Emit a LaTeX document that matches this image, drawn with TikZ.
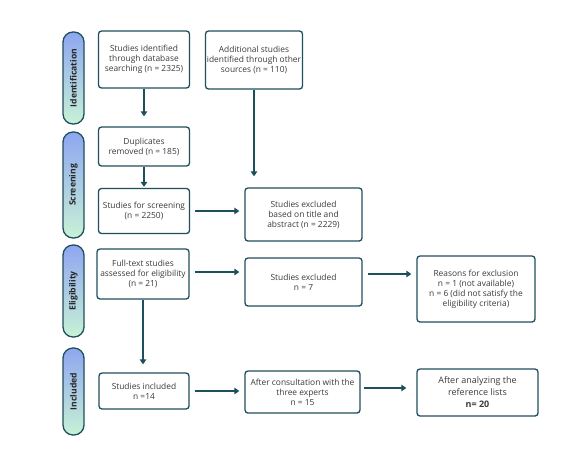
\documentclass[tikz,border=0pt]{standalone}
\usepackage{fontspec}
\setmainfont{Open Sans}
\usetikzlibrary{arrows.meta}
\definecolor{frameC}{HTML}{1E4F5C}
\definecolor{txtC}{HTML}{3A3A3A}
\definecolor{pillTop}{HTML}{8EA6F0}
\definecolor{pillBot}{HTML}{C8F2D6}
\begin{document}
\begin{tikzpicture}[x=1pt,y=-1pt,
  box/.style={draw=frameC, line width=1.3pt, rounded corners=3pt, align=center,
    font=\fontsize{8.4}{10}\selectfont, text=txtC, inner sep=1pt},
  pill/.style={draw=frameC, line width=1.3pt, rounded corners=10pt,
    minimum width=21pt, top color=pillTop, bottom color=pillBot, inner sep=0pt},
  pilltext/.style={rotate=90, font=\bfseries\fontsize{8.6}{10}\selectfont, text=black!85, inner sep=0pt},
  arr/.style={draw=frameC, line width=1.8pt, -{Triangle[width=6.5pt,length=5pt]}}
]
\useasboundingbox (0,0) rectangle (571,459);
% phase pills
\node[pill, minimum height=92pt] (pid) at (73.5,78) {};
\node[pilltext] (tid) at (pid.center) {Identification};
\node[pill, minimum height=106pt] (pscr) at (73.5,185) {};
\node[pilltext] (tscr) at (pscr.center) {Screening};
\node[pill, minimum height=92pt] (pel) at (73.5,291) {};
\node[pilltext] (tel) at (pel.center) {Eligibility};
\node[pill, minimum height=87pt] (pinc) at (73.5,391.5) {};
\node[pilltext] (tinc) at (pinc.center) {Included};
% boxes
\node[box, minimum width=91pt, minimum height=57pt] (b1) at (144,59.5)
  {Studies identified\\through database\\searching (n = 2325)};
\node[box, minimum width=97pt, minimum height=58pt] (b2) at (254,60)
  {Additional studies\\identified through other\\sources (n = 110)};
\node[box, minimum width=91pt, minimum height=39pt] (dup) at (144,146.5)
  {Duplicates\\removed (n = 185)};
\node[box, minimum width=91pt, minimum height=45pt] (scr) at (144,211)
  {Studies for screening\\(n = 2250)};
\node[box, minimum width=117pt, minimum height=53pt] (ex1) at (303.5,214.5)
  {Studies excluded\\based on title and\\abstract (n = 2229)};
\node[box, minimum width=92pt, minimum height=50pt] (ft) at (143,274)
  {Full-text studies\\assessed for eligibility\\(n = 21)};
\node[box, minimum width=117pt, minimum height=48pt] (ex2) at (303.5,282)
  {Studies excluded\\n = 7};
\node[box, minimum width=118pt, minimum height=66pt] (rea) at (476,289)
  {Reasons for exclusion\\n = 1 (not available)\\n = 6 (did not satisfy the\\eligibility criteria)};
\node[box, minimum width=90pt, minimum height=36pt] (inc) at (144,391)
  {Studies included\\n =14};
\node[box, minimum width=115pt, minimum height=42pt] (con) at (302.5,392)
  {After consultation with the\\three experts\\n = 15};
\node[box, minimum width=121pt, minimum height=47pt, font=\fontsize{9}{12}\selectfont] (aft) at (477.5,392.5)
  {After analyzing the\\reference lists\\\textbf{n= 20}};
% arrows
\draw[arr, shorten >=10pt] (b1.south) -- (b1.south |- dup.north);
\draw[arr, shorten >=1pt] (dup.south) -- (dup.south |- scr.north);
\draw[arr, shorten >=11pt] (b2.south) -- (b2.south |- ex1.north);
\draw[arr, shorten <=5pt, shorten >=5pt] (scr.east) -- (scr.east -| ex1.west);
\draw[arr, shorten <=5pt, shorten >=5pt] ([yshift=2pt]ft.east) -- ([yshift=2pt]ft.east -| ex2.west);
\draw[arr, shorten <=5pt, shorten >=5pt] (ex2.east |- ft.east) -- (rea.west |- ft.east);
\draw[arr, shorten >=8pt] (ft.south) -- (ft.south |- inc.north);
\draw[arr, shorten <=5pt, shorten >=5pt] (inc.east) -- (inc.east -| con.west);
\draw[arr, shorten <=3pt, shorten >=10pt] ([yshift=4pt]con.east) -- ([yshift=4pt]con.east -| aft.west);
\end{tikzpicture}
\end{document}
